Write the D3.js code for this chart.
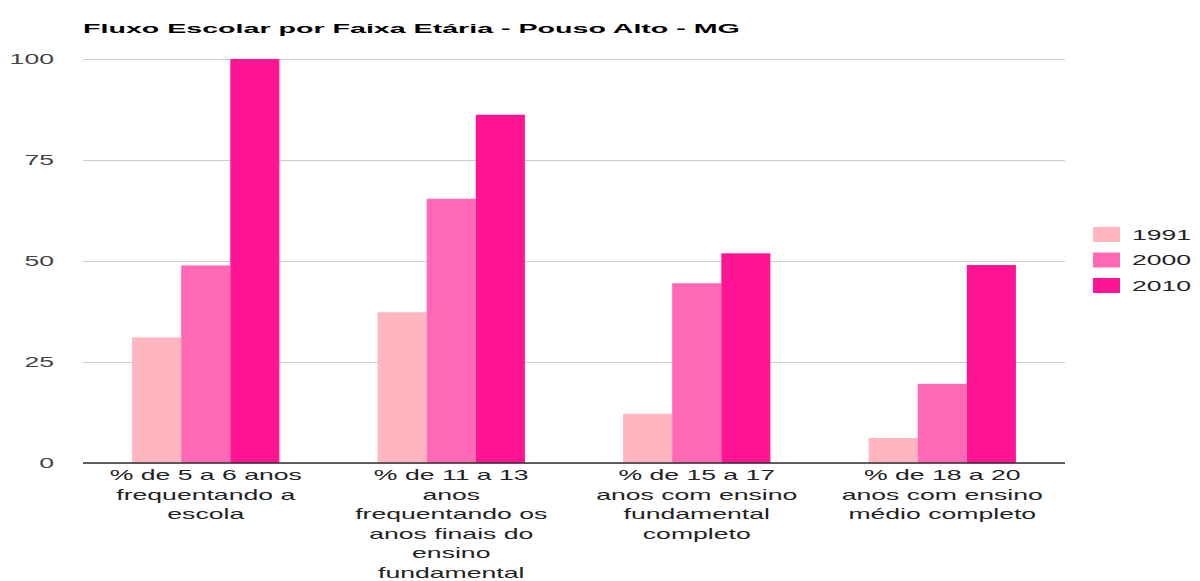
<!DOCTYPE html>
<html><head><meta charset="utf-8">
<script src="https://cdn.jsdelivr.net/npm/d3@7"></script>
<style>
html,body{margin:0;padding:0;background:#fff;}
svg{display:block;}
text{font-family:"Liberation Sans",Arial,sans-serif;}
</style></head>
<body>
<svg id="chart" width="1200" height="581"></svg>
<script>
const title = "Fluxo Escolar por Faixa Etária - Pouso Alto - MG";
const categories = [
  "% de 5 a 6 anos frequentando a escola",
  "% de 11 a 13 anos frequentando os anos finais do ensino fundamental",
  "% de 15 a 17 anos com ensino fundamental completo",
  "% de 18 a 20 anos com ensino médio completo"
];
const categoryLines = [
  ["% de 5 a 6 anos", "frequentando a", "escola"],
  ["% de 11 a 13", "anos", "frequentando os", "anos finais do", "ensino", "fundamental"],
  ["% de 15 a 17", "anos com ensino", "fundamental", "completo"],
  ["% de 18 a 20", "anos com ensino", "médio completo"]
];
const series = ["1991", "2000", "2010"];
const values1991 = [31.1, 37.3, 12.2, 6.2];
const values2000 = [48.9, 65.4, 44.5, 19.6];
const values2010 = [100, 86.2, 51.9, 49.0];
const yTicks = [0, 25, 50, 75, 100];
const colors = ["#FFB6C1", "#FF69B4", "#FF1493"];

const S = 1.9; // horizontal text stretch
const svg = d3.select("#chart");
const mLeft = 83, mRight = 1065, mTop = 59, mBottom = 463;

const x0 = d3.scaleBand().domain(categories).range([mLeft, mRight]).paddingInner(0.4).paddingOuter(0.2);
const x1 = d3.scaleBand().domain(series).range([0, x0.bandwidth()]).padding(0);
const y = d3.scaleLinear().domain([0, 100]).range([mBottom, mTop]);
const color = d3.scaleOrdinal().domain(series).range(colors);
const seriesValues = {"1991": values1991, "2000": values2000, "2010": values2010};

// gridlines + y labels
const yAxis = d3.axisLeft(y).tickValues(yTicks).tickSize(-(mRight - mLeft)).tickPadding(0);
const gy = svg.append("g").attr("transform", `translate(${mLeft},0)`).call(yAxis);
gy.select(".domain").remove();
gy.selectAll(".tick line").attr("stroke", "#cccccc").attr("stroke-width", 1.2);
gy.selectAll(".tick text")
  .attr("x", 0).attr("dy", "0.35em")
  .attr("transform", `translate(-29,0) scale(${S},1)`)
  .attr("font-size", 14).attr("fill", "#444").attr("text-anchor", "end");

// bars
const groups = svg.append("g").selectAll("g").data(categories).join("g")
  .attr("transform", d => `translate(${x0(d)},0)`);
groups.selectAll("rect")
  .data((d, i) => series.map(s => ({s, v: seriesValues[s][i]})))
  .join("rect")
  .attr("x", d => x1(d.s))
  .attr("width", x1.bandwidth())
  .attr("y", d => y(d.v))
  .attr("height", d => y(0) - y(d.v))
  .attr("fill", d => color(d.s));

// baseline
svg.append("line").attr("x1", mLeft).attr("x2", mRight).attr("y1", y(0)).attr("y2", y(0))
  .attr("stroke", "#333").attr("stroke-width", 1.5);

// category labels
categories.forEach((c, i) => {
  const cx = x0(c) + x0.bandwidth() / 2;
  categoryLines[i].forEach((ln, j) => {
    svg.append("text")
      .attr("transform", `translate(${cx},${480 + j * 19.6}) scale(${S},1)`)
      .attr("text-anchor", "middle").attr("font-size", 14).attr("fill", "#222")
      .text(ln);
  });
});

// title
svg.append("text")
  .attr("transform", `translate(${mLeft},33) scale(2.12,1)`)
  .attr("font-size", 13.5).attr("font-weight", "bold").attr("fill", "#000")
  .text(title);

// legend
const lg = svg.append("g");
series.forEach((s, i) => {
  const cy = 234.5 + i * 25.5;
  lg.append("rect").attr("x", 1093).attr("y", cy - 7.5).attr("width", 27).attr("height", 15).attr("fill", color(s));
  lg.append("text").attr("transform", `translate(1132,${cy + 5}) scale(${S},1)`)
    .attr("font-size", 14).attr("fill", "#222").text(s);
});
</script>
</body></html>
